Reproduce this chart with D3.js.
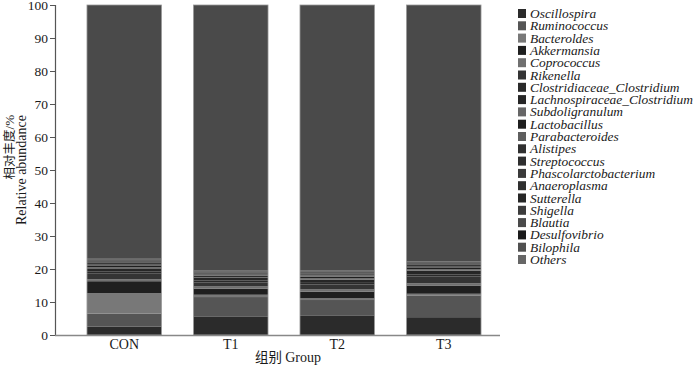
<!DOCTYPE html>
<html><head><meta charset="utf-8">
<script src="https://cdn.jsdelivr.net/npm/d3@7/dist/d3.min.js"></script>
<style>
body{margin:0;background:#fff;}
svg text{font-family:"Liberation Serif",Times,"Times New Roman",serif !important;fill:#1a1a1a;}
svg .cjk{font-family:"Noto Sans CJK SC",sans-serif !important;}
</style></head>
<body><svg id="c" width="700" height="366"></svg>
<script>
const groups = ["CON","T1","T2","T3"];
const taxa = ["Oscillospira","Ruminococcus","Bacteroldes","Akkermansia","Coprococcus","Rikenella",
  "Clostridiaceae_Clostridium","Lachnospiraceae_Clostridium","Subdoligranulum","Lactobacillus",
  "Parabacteroides","Alistipes","Streptococcus","Phascolarctobacterium","Anaeroplasma","Sutterella",
  "Shigella","Blautia","Desulfovibrio","Bilophila","Others"];
const colors = ["#2b2b2b","#555555","#787878","#1f1f1f","#707070","#343434",
  "#2a2a2a","#262626","#666666","#1e1e1e","#5e5e5e","#303030","#2e2e2e","#3a3a3a",
  "#2f2f2f","#262626","#3c3c3c","#4a4a4a","#1a1a1a","#505050","#4a4a4a"];
// values per taxon (excluding Others), order CON, T1, T2, T3
const Oscillospira = [2.5,5.5,5.8,5.4];
const Ruminococcus = [4.0,6.0,4.8,6.6];
const Bacteroldes = [6.2,0.7,0.5,0.5];
const Akkermansia = [3.6,1.8,2.0,2.5];
const Coprococcus = [0.6,0.7,0.7,0.7];
const Rikenella = [1.8,1.2,1.5,2.0];
const ClostridiaceaeC = [0.5,0.6,0.5,0.6];
const LachnospiraceaeC = [1.0,0.8,1.0,1.2];
const Subdoligranulum = [0.3,0.3,0.4,0.4];
const Lactobacillus = [0.6,0.4,0.5,0.6];
const Parabacteroides = [0.4,0.3,0.4,0.4];
const Alistipes = [0.3,0.2,0.3,0.3];
const Streptococcus = [0.2,0.2,0.2,0.2];
const Phascolarctobacterium = [0.2,0.2,0.2,0.2];
const Anaeroplasma = [0.2,0.1,0.2,0.2];
const Sutterella = [0.2,0.1,0.1,0.2];
const Shigella = [0.2,0.1,0.1,0.1];
const Blautia = [0.2,0.1,0.1,0.1];
const Desulfovibrio = [0.2,0.1,0.1,0.1];
const Bilophila = [0.1,0.1,0.1,0.1];
const yTicks = [0,10,20,30,40,50,60,70,80,90,100];

const series = [Oscillospira,Ruminococcus,Bacteroldes,Akkermansia,Coprococcus,Rikenella,
  ClostridiaceaeC,LachnospiraceaeC,Subdoligranulum,Lactobacillus,Parabacteroides,Alistipes,
  Streptococcus,Phascolarctobacterium,Anaeroplasma,Sutterella,Shigella,Blautia,Desulfovibrio,Bilophila];
const Others = groups.map((g,i)=>100 - d3.sum(series, s=>s[i]));
series.push(Others);

const rows = groups.map((g,i)=>{const r={group:g}; taxa.forEach((t,k)=>r[t]=series[k][i]); return r;});
const stacked = d3.stack().keys(taxa)(rows);

const svg = d3.select("#c");
const x = d3.scaleBand().domain(groups).range([71,497]).paddingInner(0.3).paddingOuter(0.15);
const y = d3.scaleLinear().domain([0,100]).range([335,5]);

// bars
svg.append("g").selectAll("g").data(stacked).join("g")
  .attr("fill",(d,i)=>colors[i])
  .selectAll("rect").data(d=>d).join("rect")
  .attr("x",d=>x(d.data.group)).attr("width",x.bandwidth())
  .attr("y",d=>y(d[1])).attr("height",d=>Math.max(0,y(d[0])-y(d[1])));
// bar outline
svg.append("g").selectAll("rect").data(groups).join("rect")
  .attr("x",d=>x(d)).attr("width",x.bandwidth()).attr("y",y(100)).attr("height",y(0)-y(100))
  .attr("fill","none").attr("stroke","#9a9a9a").attr("stroke-width",0.8);

// y axis
const ya = svg.append("g").attr("transform","translate(55,0)")
  .call(d3.axisLeft(y).tickValues(yTicks).tickSize(5).tickPadding(2));
ya.attr("font-family",null);
ya.select(".domain").attr("stroke","#555").attr("stroke-width",1.2);
ya.selectAll(".tick line").attr("stroke","#555");
ya.selectAll("text").style("font-size","13.5px").attr("fill","#1a1a1a");

// x axis
svg.append("line").attr("x1",55).attr("x2",500).attr("y1",335.5).attr("y2",335.5)
  .attr("stroke","#888").attr("stroke-width",1.5);
const xa = svg.append("g").attr("transform","translate(0,336)")
  .call(d3.axisBottom(x).tickSize(0).tickPadding(3));
xa.attr("font-family",null);
xa.select(".domain").remove();
xa.selectAll("text").style("font-size","14px").attr("fill","#1a1a1a");

// axis titles
const t1 = svg.append("text").attr("transform","translate(13.5,115) rotate(-90)").attr("text-anchor","end")
  .style("font-size","13px");
t1.append("tspan").attr("class","cjk").style("font-size","12.5px").text("相对丰度");
t1.append("tspan").text("/%");
svg.append("text").attr("transform","translate(26,115) rotate(-90)").attr("text-anchor","end")
  .style("font-size","14px").text("Relative abundance");
const xt = svg.append("text").attr("x",288).attr("y",362).attr("text-anchor","middle")
  .style("font-size","14px");
xt.append("tspan").attr("class","cjk").style("font-size","13.5px").text("组别 ");
xt.append("tspan").text("Group");

// legend
const lg = svg.append("g");
const li = lg.selectAll("g").data(taxa).join("g")
  .attr("transform",(d,i)=>`translate(518,${9+i*12.3})`);
li.append("rect").attr("width",8).attr("height",9).attr("fill",(d,i)=>i===20?"#666":colors[i]);
li.append("text").attr("x",12).attr("y",9).style("font-size","13.4px").style("font-style","italic").text(d=>d);
</script></body></html>
